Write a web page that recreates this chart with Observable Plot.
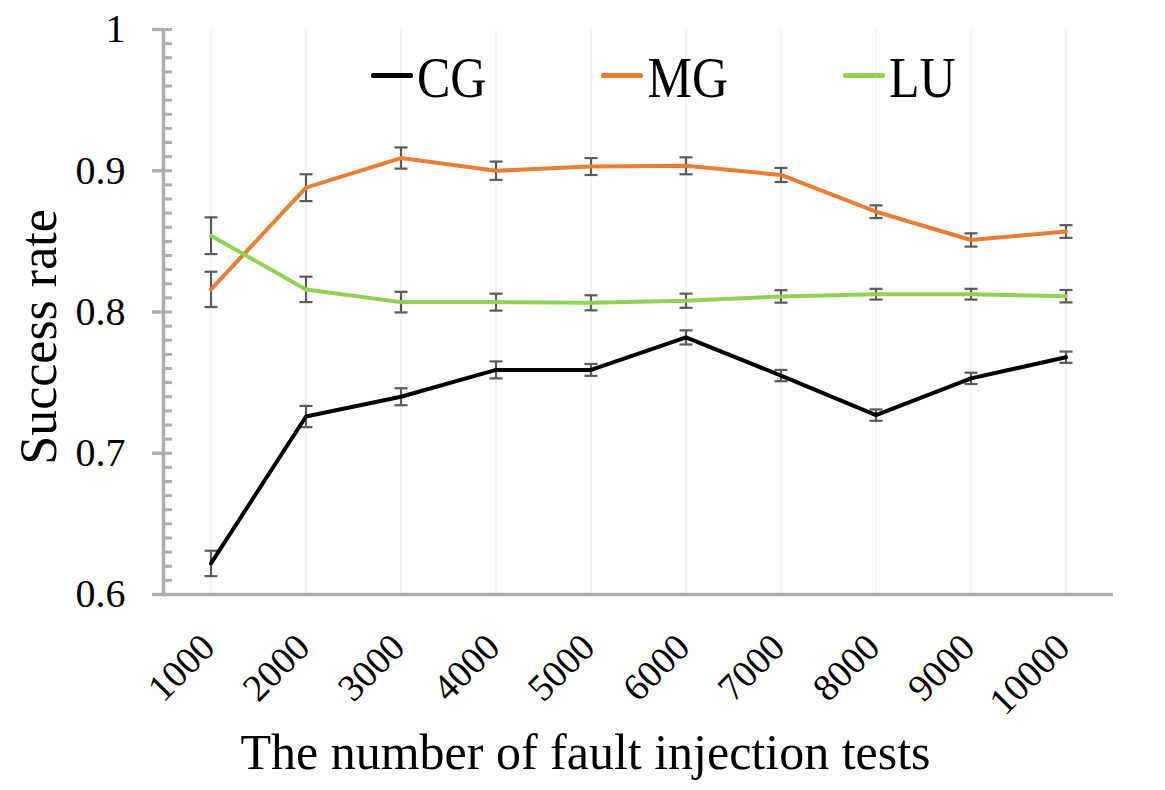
<!DOCTYPE html>
<html>
<head>
<meta charset="utf-8">
<script src="https://cdn.jsdelivr.net/npm/d3@7"></script>
<script src="https://cdn.jsdelivr.net/npm/@observablehq/plot@0.6"></script>
<style>
  body { margin: 0; background: #fff; }
  #chart { position: relative; width: 1165px; height: 790px; font-family: "Liberation Serif", "Times New Roman", serif; }
  #legend { position: absolute; left: 371px; top: 55px; display: flex; gap: 115px; font-size: 50px; line-height: 50px; color: #000; }
  .item { position: relative; padding-left: 46px; white-space: nowrap; }
  .swatch { position: absolute; left: 0; top: 18px; width: 42px; height: 4.5px; border-radius: 2px; }
  .name { display: inline-block; transform: scaleY(1.12); transform-origin: 0 42px; }
</style>
</head>
<body>
<div id="chart"><div id="legend"></div></div>
<script>
// Number of fault injection tests (x categories)
const counts = [1000, 2000, 3000, 4000, 5000, 6000, 7000, 8000, 9000, 10000];

// Benchmarks and their line colours
const seriesNames = ["CG", "MG", "LU"];
const seriesColors = ["#000000", "#ED7D31", "#92D050"];

// Success rate per benchmark, with the half-width of each error bar
const cgRate = [0.622, 0.726, 0.740, 0.759, 0.759, 0.782, 0.755, 0.727, 0.753, 0.768];
const cgErr  = [0.009, 0.0075, 0.006, 0.006, 0.0042, 0.005, 0.004, 0.004, 0.004, 0.004];
const mgRate = [0.816, 0.888, 0.909, 0.900, 0.903, 0.9035, 0.897, 0.871, 0.851, 0.857];
const mgErr  = [0.0125, 0.0095, 0.0075, 0.0065, 0.006, 0.006, 0.005, 0.0045, 0.0047, 0.0045];
const luRate = [0.854, 0.816, 0.807, 0.807, 0.8065, 0.808, 0.811, 0.8126, 0.8126, 0.8112];
const luErr  = [0.013, 0.009, 0.0073, 0.006, 0.0053, 0.005, 0.0044, 0.0038, 0.0038, 0.0044];

// Y axis ticks
const majorTicks = [0.6, 0.7, 0.8, 0.9, 1];
const minorTicks = d3.range(60, 101).map(v => v / 100);

const xTitle = "The number of fault injection tests";
const yTitle = "Success rate";

const rates = [cgRate, mgRate, luRate];
const errs = [cgErr, mgErr, luErr];
const rows = seriesNames.flatMap((name, s) =>
  counts.map((c, i) => ({ series: name, count: c, rate: rates[s][i], err: errs[s][i] }))
);
const capEnds = rows.flatMap(d => [
  { count: d.count, value: d.rate - d.err },
  { count: d.count, value: d.rate + d.err }
]);

// Horizontal cap drawn at each error bar end
const capSymbol = { draw(ctx) { ctx.moveTo(-6.5, 0); ctx.lineTo(6.5, 0); } };

const axisGrey = "#adadad";
const errGrey = "#5a5a5a";
const serif = "'Liberation Serif', 'Times New Roman', serif";

const chart = Plot.plot({
  width: 1165,
  height: 790,
  marginLeft: 163,
  marginRight: 52,
  marginTop: 29,
  marginBottom: 196,
  style: { fontFamily: serif, background: "transparent", overflow: "visible", color: "#000" },
  x: { type: "linear", domain: [500, 10500], axis: null },
  y: { domain: [0.6, 1], axis: null },
  color: { domain: seriesNames, range: seriesColors },
  marks: [
    Plot.ruleX(counts, { stroke: "#efefef", strokeWidth: 1.2 }),
    Plot.ruleX([500], { stroke: axisGrey, strokeWidth: 3.5 }),
    Plot.ruleY([0.6], { stroke: axisGrey, strokeWidth: 3.5 }),
    Plot.axisY(minorTicks, { tickSize: 9, dx: 9, stroke: axisGrey, strokeWidth: 3, fill: "none", label: null }),
    Plot.axisY(majorTicks, {
      tickSize: 11, tickPadding: 27, stroke: axisGrey, strokeWidth: 3.5,
      fill: "#000", fontSize: 40, label: null,
      tickFormat: d => (d === 1 ? "1" : d.toFixed(1))
    }),
    Plot.ruleX(rows, { x: "count", y1: d => d.rate - d.err, y2: d => d.rate + d.err, stroke: errGrey, strokeWidth: 2.2 }),
    Plot.dot(capEnds, { x: "count", y: "value", symbol: capSymbol, stroke: errGrey, strokeWidth: 2.2, r: 7 }),
    Plot.line(rows, { x: "count", y: "rate", z: "series", stroke: "series", strokeWidth: 4, strokeLinejoin: "round", strokeLinecap: "round" }),
    Plot.text(counts, {
      x: d => d, text: d => String(d), frameAnchor: "bottom",
      rotate: -45, textAnchor: "end", lineAnchor: "bottom", dx: 6, dy: 55, fontSize: 38, fill: "#000"
    }),
    Plot.text([yTitle], {
      text: d => d, frameAnchor: "left", rotate: -90, textAnchor: "middle", lineAnchor: "bottom",
      dx: -108, dy: 25, fontSize: 52, fill: "#000"
    }),
    Plot.text([xTitle], {
      text: d => d, frameAnchor: "bottom", textAnchor: "middle", lineAnchor: "bottom",
      dx: -53, dy: 174, fontSize: 50, fill: "#000"
    })
  ]
});

const host = document.getElementById("chart");
host.insertBefore(chart, host.firstChild);

// Legend along the top of the plot area
const legend = document.getElementById("legend");
seriesNames.forEach((name, i) => {
  const item = document.createElement("div");
  item.className = "item";
  const sw = document.createElement("span");
  sw.className = "swatch";
  sw.style.background = seriesColors[i];
  const label = document.createElement("span");
  label.className = "name";
  label.textContent = name;
  item.appendChild(sw);
  item.appendChild(label);
  legend.appendChild(item);
});
</script>
</body>
</html>
